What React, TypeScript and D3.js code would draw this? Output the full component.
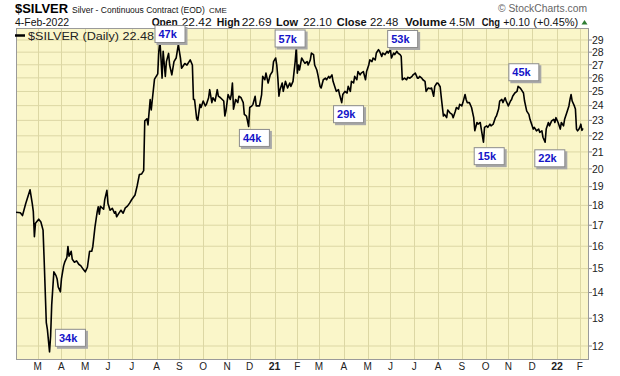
import React from "react";
import * as d3 from "d3";

const dates: string[] = [
"2020-02-03","2020-02-07","2020-02-11","2020-02-14","2020-02-20","2020-02-24","2020-02-25","2020-02-26","2020-02-27",
"2020-03-03","2020-03-05","2020-03-09","2020-03-10","2020-03-12","2020-03-13","2020-03-17","2020-03-18","2020-03-19",
"2020-03-23","2020-03-25","2020-03-26","2020-03-27","2020-03-31","2020-04-01","2020-04-03","2020-04-06","2020-04-08",
"2020-04-09","2020-04-10","2020-04-14","2020-04-15","2020-04-17","2020-04-21","2020-04-23","2020-04-27","2020-04-29",
"2020-05-01","2020-05-05","2020-05-07","2020-05-11","2020-05-12","2020-05-14","2020-05-18","2020-05-19","2020-05-20",
"2020-05-21","2020-05-26","2020-05-27","2020-05-29","2020-06-01","2020-06-03","2020-06-05","2020-06-09","2020-06-10",
"2020-06-11","2020-06-15","2020-06-17","2020-06-19","2020-06-23","2020-06-25","2020-06-29","2020-07-01","2020-07-06",
"2020-07-08","2020-07-10","2020-07-14","2020-07-16","2020-07-17","2020-07-21","2020-07-22","2020-07-24","2020-07-27",
"2020-07-28","2020-07-30","2020-08-04","2020-08-05","2020-08-06","2020-08-07","2020-08-10","2020-08-11","2020-08-13",
"2020-08-14","2020-08-18","2020-08-19","2020-08-21","2020-08-25","2020-08-27","2020-08-31","2020-09-02","2020-09-03",
"2020-09-08","2020-09-10","2020-09-14","2020-09-15","2020-09-17","2020-09-18","2020-09-21","2020-09-23","2020-09-24",
"2020-09-28","2020-09-29","2020-10-01","2020-10-05","2020-10-06","2020-10-08","2020-10-09","2020-10-13","2020-10-14",
"2020-10-16","2020-10-20","2020-10-21","2020-10-23","2020-10-28","2020-10-29","2020-10-30","2020-11-03","2020-11-05",
"2020-11-06","2020-11-09","2020-11-10","2020-11-12","2020-11-16","2020-11-17","2020-11-19","2020-11-23","2020-11-24",
"2020-11-26","2020-11-30","2020-12-01","2020-12-03","2020-12-04","2020-12-08","2020-12-09","2020-12-14","2020-12-16",
"2020-12-17","2020-12-21","2020-12-22","2020-12-24","2020-12-28","2020-12-30","2020-12-31",
"2021-01-04","2021-01-05","2021-01-06","2021-01-07","2021-01-08","2021-01-12","2021-01-13","2021-01-15","2021-01-19",
"2021-01-21","2021-01-22","2021-01-26","2021-01-28","2021-01-29","2021-02-01","2021-02-02","2021-02-03","2021-02-05",
"2021-02-09","2021-02-10","2021-02-12","2021-02-15","2021-02-17","2021-02-18","2021-02-22","2021-02-23","2021-02-25",
"2021-02-26","2021-03-02","2021-03-03","2021-03-05","2021-03-09","2021-03-10","2021-03-12","2021-03-15","2021-03-17",
"2021-03-18","2021-03-22","2021-03-23","2021-03-25","2021-03-26","2021-03-30","2021-03-31","2021-04-02","2021-04-06",
"2021-04-07","2021-04-09","2021-04-12","2021-04-14","2021-04-15","2021-04-19","2021-04-20","2021-04-22","2021-04-23",
"2021-04-27","2021-04-29","2021-04-30","2021-05-04","2021-05-05","2021-05-07","2021-05-10","2021-05-12","2021-05-13",
"2021-05-17","2021-05-18","2021-05-20","2021-05-21","2021-05-25","2021-05-27","2021-05-28","2021-06-01","2021-06-02",
"2021-06-04","2021-06-07","2021-06-09","2021-06-10","2021-06-14","2021-06-15","2021-06-16","2021-06-18","2021-06-22",
"2021-06-23","2021-06-25","2021-06-29","2021-06-30","2021-07-02","2021-07-06","2021-07-07","2021-07-08","2021-07-12",
"2021-07-13","2021-07-15","2021-07-16","2021-07-20","2021-07-22","2021-07-23","2021-07-27","2021-07-28","2021-07-30",
"2021-08-02","2021-08-04","2021-08-05","2021-08-09","2021-08-10","2021-08-12","2021-08-13","2021-08-17","2021-08-19",
"2021-08-20","2021-08-24","2021-08-25","2021-08-27","2021-08-30","2021-09-01","2021-09-02","2021-09-06","2021-09-07",
"2021-09-08","2021-09-10","2021-09-14","2021-09-16","2021-09-17","2021-09-21","2021-09-22","2021-09-24","2021-09-27",
"2021-09-29","2021-09-30","2021-10-04","2021-10-05","2021-10-07","2021-10-08","2021-10-12","2021-10-14","2021-10-15",
"2021-10-19","2021-10-20","2021-10-22","2021-10-25","2021-10-27","2021-10-28","2021-11-01","2021-11-03","2021-11-04",
"2021-11-05","2021-11-09","2021-11-11","2021-11-12","2021-11-16","2021-11-17","2021-11-19","2021-11-22","2021-11-24",
"2021-11-26","2021-11-29","2021-12-01","2021-12-02","2021-12-03","2021-12-07","2021-12-09","2021-12-10","2021-12-14",
"2021-12-15","2021-12-17","2021-12-20","2021-12-22","2021-12-23","2021-12-27","2021-12-29","2021-12-30","2021-12-31",
"2022-01-04","2022-01-06","2022-01-07","2022-01-11","2022-01-12","2022-01-14","2022-01-18","2022-01-19","2022-01-20",
"2022-01-21","2022-01-25","2022-01-26","2022-01-27","2022-01-28","2022-01-31","2022-02-01","2022-02-02","2022-02-03",
"2022-02-04"
];

const closes: number[] = [
17.65,17.62,17.48,18.10,18.83,18.10,17.68,16.45,17.10,
17.30,17.16,16.76,15.41,12.84,12.59,11.80,12.35,13.51,
14.86,14.70,14.56,14.23,14.03,14.56,15.12,15.28,15.49,
15.99,15.55,15.77,15.41,15.28,15.34,15.19,15.12,14.98,
14.86,15.06,15.77,15.77,15.99,16.92,17.65,17.93,17.55,
17.95,17.80,18.30,18.80,18.10,17.75,17.85,17.60,17.68,
17.42,17.59,17.75,17.60,17.87,17.96,18.12,18.31,18.55,
19.05,19.67,19.70,19.90,22.97,23.10,22.70,24.43,23.70,
24.43,25.90,26.30,28.07,28.92,27.50,25.98,28.07,26.10,
27.25,27.90,26.98,26.23,27.25,27.53,28.61,27.53,26.73,
27.10,26.98,27.25,27.38,26.98,24.43,24.43,23.10,23.00,
24.09,23.87,24.32,23.98,24.09,24.55,25.13,24.21,24.55,
24.32,25.13,24.66,24.55,24.32,23.29,23.62,24.78,24.43,
24.78,25.62,23.76,24.43,24.21,24.66,24.55,24.21,23.40,
23.29,22.60,23.87,23.98,24.09,24.66,23.98,23.98,24.78,
26.11,25.86,26.36,25.62,26.23,26.48,27.25,
27.53,26.98,25.98,24.66,25.13,25.62,25.01,25.74,25.25,
25.62,25.37,25.74,27.25,28.35,26.36,26.98,26.60,27.53,
27.25,27.12,27.25,26.98,27.38,27.93,27.80,26.98,26.60,
26.23,25.37,25.25,25.86,25.98,25.86,26.11,25.98,26.23,
25.74,25.25,25.01,25.13,24.78,24.21,24.78,25.01,24.89,
25.37,25.01,25.74,25.62,26.11,25.86,26.48,26.23,26.36,
26.48,25.86,26.48,26.98,27.38,27.25,27.53,27.38,27.93,
28.20,28.07,27.66,27.93,27.80,28.07,27.93,28.20,27.53,
27.93,27.80,28.07,27.93,27.80,27.66,25.86,25.98,25.86,
26.04,25.98,26.11,26.23,26.36,25.98,25.98,26.11,25.98,
25.86,25.74,25.01,25.25,25.20,25.25,24.66,25.37,25.62,
25.60,25.34,24.60,23.29,23.40,23.18,23.70,23.51,23.40,
23.18,23.62,23.87,23.76,24.09,23.98,24.21,24.78,24.43,
24.21,24.21,23.87,23.18,22.32,22.86,22.75,22.86,22.43,
21.60,22.54,22.64,22.54,22.75,22.64,22.75,23.18,23.29,
23.76,24.32,24.43,24.21,24.55,24.32,23.98,24.32,24.43,
24.66,24.89,25.00,25.37,25.25,25.13,24.89,24.32,23.62,
23.40,23.07,22.64,22.43,22.54,22.32,22.43,22.22,22.32,
21.91,21.60,22.43,22.86,22.64,22.97,23.07,22.86,23.18,
22.86,22.43,22.86,22.64,23.07,23.51,23.98,24.43,24.78,
24.32,23.98,23.76,22.43,22.32,22.40,22.54,22.75,22.35,
22.48
];

const annoLabels: string[] = ["34k", "47k", "44k", "57k", "29k", "53k", "15k", "45k", "22k"];
const annoDates: string[] = ["2020-03-24", "2020-07-30", "2020-11-17", "2021-01-01", "2021-03-18", "2021-05-27", "2021-09-16", "2021-11-01", "2021-12-03"];
const annoPrices: number[] = [12.61, 30.28, 22.44, 29.89, 24.03, 29.85, 21.29, 27.12, 21.16];

const priceTicks: number[] = [12, 13, 14, 15, 16, 17, 18, 19, 20, 21, 22, 23, 24, 25, 26, 27, 28, 29];
const monthTickDates: string[] = [
"2020-03-01","2020-04-01","2020-05-01","2020-06-01","2020-07-01","2020-08-01","2020-09-01","2020-10-01","2020-11-01","2020-12-01",
"2021-01-01","2021-02-01","2021-03-01","2021-04-01","2021-05-01","2021-06-01","2021-07-01","2021-08-01","2021-09-01","2021-10-01","2021-11-01","2021-12-01",
"2022-01-01","2022-02-01"
];
const monthTickLabels: string[] = ["M","A","M","J","J","A","S","O","N","D","21","F","M","A","M","J","J","A","S","O","N","D","22","F"];

const W = 620, H = 376;
const PL = 16, PR = 589, PT = 28, PB = 360;
const FONT = "Liberation Sans, Arial, Helvetica, sans-serif";

const parse = d3.timeParse("%Y-%m-%d");
const t0 = parse(dates[0]) as Date;
function wIdx(d: Date): number {
  const days = d3.timeDay.count(t0, d);
  const w = Math.floor(days / 7);
  const r = days - w * 7;
  return w * 5 + Math.min(r, 5);
}

export default function App() {
  const parsed = dates.map((s) => parse(s) as Date);
  const lastIdx = wIdx(parsed[parsed.length - 1]);
  const x = d3.scaleLinear().domain([0, lastIdx]).range([PL, 583]);
  const y = d3.scaleLog().domain([12, 29]).range([346, 40]);
  const pts: [number, number][] = parsed.map((d, i) => [x(wIdx(d)), y(closes[i])]);
  const line = d3.line<[number, number]>().x((p) => p[0]).y((p) => p[1]);
  const grid = "#dcd7a4";

  const hdr = (t: string, xx: number, tl: number, bold = false) => (
    <text x={xx} y={25.5} fontSize={bold ? 11 : 10.5} fontWeight={bold ? "bold" : "normal"} textLength={tl} lengthAdjust="spacingAndGlyphs" fill="#111">{t}</text>
  );

  return (
    <svg width={W} height={H} style={{ display: "block", position: "absolute", left: 0, top: 0 }} fontFamily={FONT}>
      <defs>
        <clipPath id="plotclip"><rect x={PL} y={PT} width={PR - PL} height={PB - PT} /></clipPath>
      </defs>
      <rect x={0} y={0} width={W} height={H} fill="#ffffff" />
      {/* header */}
      <text x={15} y={12.5} fontSize={12.5} fontWeight="bold" textLength={53} lengthAdjust="spacingAndGlyphs" fill="#000">$SILVER</text>
      <text x={72} y={12.5} fontSize={8.5} fill="#111">Silver - Continuous Contract (EOD)</text>
      <text x={209} y={12.5} fontSize={8} fill="#111">CME</text>
      <text x={498} y={12} fontSize={10} textLength={89} lengthAdjust="spacingAndGlyphs" fill="#666">© StockCharts.com</text>
      <text x={15} y={25.5} fontSize={10} textLength={54} lengthAdjust="spacingAndGlyphs" fill="#111">4-Feb-2022</text>
      {hdr("Open", 151.7, 26, true)}
      {hdr("22.42", 181.7, 30)}
      {hdr("High", 216.7, 23.3, true)}
      {hdr("22.69", 241.7, 30)}
      {hdr("Low", 276, 22, true)}
      {hdr("22.10", 303.3, 28.4)}
      {hdr("Close", 336.7, 30, true)}
      {hdr("22.48", 370, 28.3)}
      {hdr("Volume", 405, 41.7, true)}
      {hdr("4.5M", 449.3, 25.7)}
      {hdr("Chg", 481.7, 18.3, true)}
      {hdr("+0.10", 503.3, 26.7)}
      {hdr("(+0.45%)", 533.3, 45)}
      <path d="M581.5,24.5 L584.5,20 L587.5,24.5 Z" fill="#2e7d32" />

      {/* plot */}
      <rect x={PL} y={PT} width={PR - PL} height={PB - PT} fill="#faf6c9" />
      {priceTicks.map((v) => (
        <line key={"h" + v} x1={PL} x2={PR} y1={y(v)} y2={y(v)} stroke={grid} strokeWidth={1} />
      ))}
      {monthTickDates.map((s) => {
        const xx = Math.round(x(wIdx(parse(s) as Date))) + 0.5;
        return <line key={"v" + s} x1={xx} x2={xx} y1={PT} y2={PB} stroke={grid} strokeWidth={1} />;
      })}
      <rect x={PL + 0.5} y={PT + 0.5} width={PR - PL - 1} height={PB - PT - 1} fill="none" stroke="#9a9a9a" strokeWidth={1} />

      {/* legend */}
      <line x1={15} x2={25} y1={35.5} y2={35.5} stroke="#000" strokeWidth={2.5} />
      <text x={28} y={39.5} fontSize={11} textLength={126} lengthAdjust="spacingAndGlyphs" fill="#222">$SILVER (Daily) 22.48</text>

      <g clipPath="url(#plotclip)">
        <path d={line(pts) || ""} fill="none" stroke="#000" strokeWidth={1.6} strokeLinejoin="round" />
      </g>

      {/* axes */}
      {priceTicks.map((v) => (
        <g key={"yt" + v}>
          <line x1={PR} x2={PR + 3} y1={y(v)} y2={y(v)} stroke="#888" />
          <text x={592} y={y(v) + 3.8} fontSize={10.5} fill="#222">{v}</text>
        </g>
      ))}
      {monthTickDates.map((s, i) => {
        const xx = x(wIdx(parse(s) as Date));
        const bold = /^\d/.test(monthTickLabels[i]);
        return (
          <text key={"xt" + s} x={xx} y={369.5} fontSize={bold ? 10.5 : 10} fontWeight={bold ? "bold" : "normal"} textAnchor="middle" fill="#222">{monthTickLabels[i]}</text>
        );
      })}

      {/* annotations */}
      {annoLabels.map((lab, i) => {
        const bx = x(wIdx(parse(annoDates[i]) as Date));
        const by = y(annoPrices[i]);
        return (
          <g key={"a" + i}>
            <rect x={bx + 2} y={by + 2} width={31} height={18} fill="#a8a8a8" />
            <rect x={bx + 0.5} y={by + 0.5} width={30} height={17} fill="#ffffff" stroke="#8c8c8c" strokeWidth={1} />
            <text x={bx + 4} y={by + 13} fontSize={11} fontWeight="bold" fill="#1414c8">{lab}</text>
          </g>
        );
      })}
    </svg>
  );
}
